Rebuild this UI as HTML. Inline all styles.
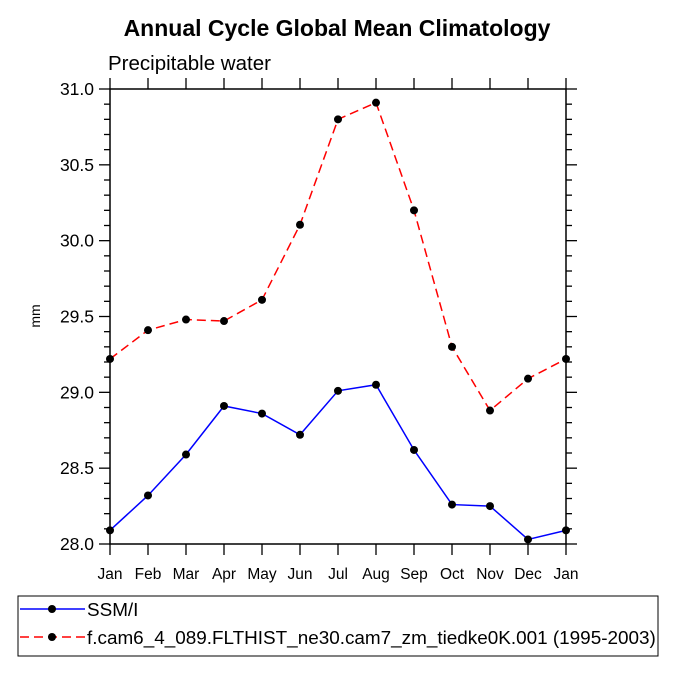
<!DOCTYPE html>
<html><head><meta charset="utf-8"><style>
body{margin:0;background:#fff;}
svg text{font-family:"Liberation Sans",Arial,sans-serif;}
</style></head><body>
<svg width="675" height="675" viewBox="0 0 675 675">
<text x="337" y="36" text-anchor="middle" font-size="23" font-weight="bold">Annual Cycle Global Mean Climatology</text>
<text x="108" y="70" font-size="20.5">Precipitable water</text>
<text x="40" y="316" font-size="14" text-anchor="middle" transform="rotate(-90 40 316)">mm</text>
<g id="axes"></g>
<g id="series"></g>
<rect x="18" y="596" width="640" height="60" fill="none" stroke="#000" stroke-width="1"/>
<g>
<line x1="20" y1="609" x2="85" y2="609" stroke="#00f" stroke-width="1.5"/>
<circle cx="52" cy="609" r="4" fill="#000"/>
<text x="87" y="616" font-size="18.9">SSM/I</text>
</g>
<g>
<line x1="20" y1="637" x2="85" y2="637" stroke="#f00" stroke-width="1.5" stroke-dasharray="9,5"/>
<circle cx="52" cy="637" r="4" fill="#000"/>
<text x="87" y="644" font-size="18.9">f.cam6_4_089.FLTHIST_ne30.cam7_zm_tiedke0K.001 (1995-2003)</text>
</g>
</svg>
<script>
const months=["Jan","Feb","Mar","Apr","May","Jun","Jul","Aug","Sep","Oct","Nov","Dec","Jan"];
const ssmi=[28.09,28.32,28.59,28.91,28.86,28.72,29.01,29.05,28.62,28.26,28.25,28.03,28.09];
const model=[29.22,29.41,29.48,29.47,29.61,30.105,30.80,30.91,30.20,29.30,28.88,29.09,29.22];
const yTicks=[28.0,28.5,29.0,29.5,30.0,30.5,31.0];
const yTickLabels=["28.0","28.5","29.0","29.5","30.0","30.5","31.0"];
const NS="http://www.w3.org/2000/svg";
const L=110,R=566,T=89,B=544,ymin=28,ymax=31;
const xs=i=>L+(R-L)*i/(months.length-1);
const ys=v=>B-(v-ymin)/(ymax-ymin)*(B-T);
function mk(tag,attrs,parent){const e=document.createElementNS(NS,tag);for(const k in attrs)e.setAttribute(k,attrs[k]);parent.appendChild(e);return e;}
const ax=document.getElementById('axes');
const frame=mk('rect',{x:L,y:T,width:R-L,height:B-T,fill:'none',stroke:'#000','stroke-width':1.5},ax);


months.forEach((m,i)=>{const x=xs(i);
mk('line',{x1:x,y1:B,x2:x,y2:B+11,stroke:'#000','stroke-width':1.3},ax);
mk('line',{x1:x,y1:T,x2:x,y2:T-11,stroke:'#000','stroke-width':1.3},ax);
const t=mk('text',{x:x,y:B+35,'text-anchor':'middle','font-size':15.5},ax);t.textContent=m;


});
for(let v=ymin;v<=ymax+1e-6;v+=0.1){const y=ys(v);const maj=Math.abs(v*2-Math.round(v*2))<1e-6;const len=maj?11:6;
mk('line',{x1:L,y1:y,x2:L-len,y2:y,stroke:'#000','stroke-width':1.3},ax);
mk('line',{x1:R,y1:y,x2:R+len,y2:y,stroke:'#000','stroke-width':1.3},ax);}
yTicks.forEach((v,i)=>{const t=mk('text',{x:L-16,y:ys(v)+6,'text-anchor':'end','font-size':17.5},ax);t.textContent=yTickLabels[i];


});
const sg=document.getElementById('series');
function series(vals,color,dash,name){
const g=mk('g',{},sg);


const p=mk('polyline',{points:vals.map((v,i)=>xs(i)+','+ys(v)).join(' '),fill:'none',stroke:color,'stroke-width':1.5},g);
if(dash)p.setAttribute('stroke-dasharray',dash);
vals.forEach((v,i)=>{const c=mk('circle',{cx:xs(i),cy:ys(v),r:4,fill:'#000'},g);


});}
series(model,'#f00','9,5','model-series');
series(ssmi,'#00f',null,'ssmi-series');
</script>
</body></html>
